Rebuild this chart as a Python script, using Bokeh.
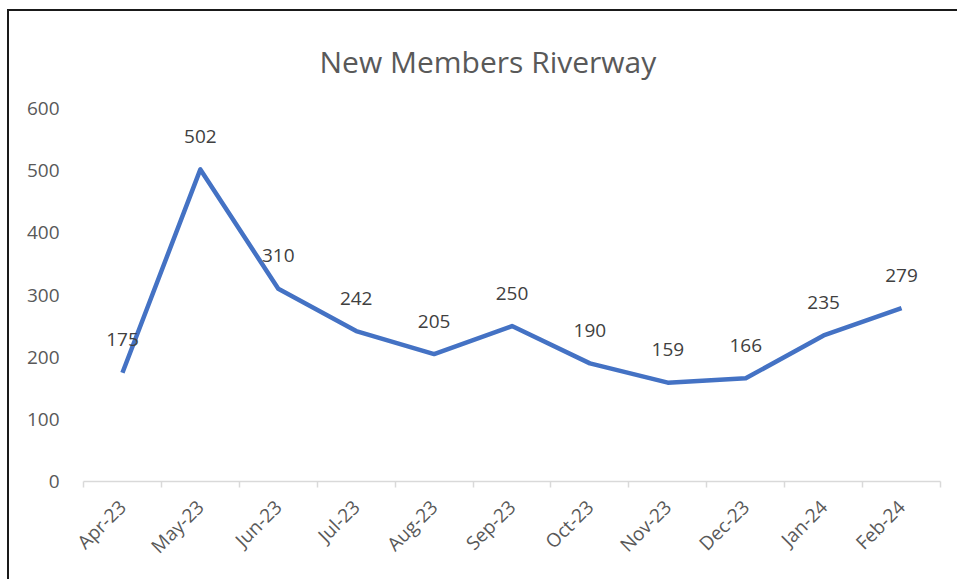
import math
from bokeh.plotting import figure
from bokeh.models import ColumnDataSource, FixedTicker, Range1d
from bokeh.core.properties import value
from bokeh.embed import file_html
from bokeh.resources import INLINE

months = ["Apr-23", "May-23", "Jun-23", "Jul-23", "Aug-23", "Sep-23",
          "Oct-23", "Nov-23", "Dec-23", "Jan-24", "Feb-24"]
new_members = [175, 502, 310, 242, 205, 250, 190, 159, 166, 235, 279]
y_ticks = [0, 100, 200, 300, 400, 500, 600]

FONT = "Open Sans"
n = len(months)
xs = [i + 0.5 for i in range(n)]
src = ColumnDataSource(dict(x=xs, y=new_members, lab=[str(v) for v in new_members]))

p = figure(width=950, height=570, output_backend="svg", toolbar_location=None,
           x_range=Range1d(0, n), y_range=Range1d(0, 600),
           min_border_left=74, min_border_right=19, min_border_top=96, min_border_bottom=100,
           background_fill_color="white", border_fill_color="white",
           outline_line_color=None)
p.styles = {"border-left": "2px solid #1a1a1a", "border-top": "2px solid #1a1a1a",
            "margin-left": "7px", "margin-top": "9px"}

p.title.text = "New Members Riverway"
p.title.align = "left"
p.title.offset = 236
p.title.text_font = FONT
p.title.text_font_size = "30px"
p.title.text_font_style = "normal"
p.title.text_color = "#595959"
p.title.standoff = 54

p.line("x", "y", source=src, line_color="#4472C4", line_width=4.5, line_join="round")
p.text("x", "y", text="lab", source=src, text_align="center", text_baseline="middle",
       y_offset=-33, text_font=value(FONT), text_font_size="19px", text_color="#404040")

p.xgrid.grid_line_color = None
p.ygrid.grid_line_color = None

xa = p.xaxis[0]
xa.ticker = FixedTicker(ticks=xs, minor_ticks=list(range(n + 1)))
xa.major_label_overrides = {x: m for x, m in zip(xs, months)}
xa.major_label_orientation = math.pi / 4
xa.major_tick_line_color = None
xa.minor_tick_line_color = "#d9d9d9"
xa.minor_tick_in = 0
xa.minor_tick_out = 6
xa.axis_line_color = "#d9d9d9"
xa.axis_line_width = 1.5
xa.minor_tick_line_width = 1.5
xa.major_label_text_font = FONT
xa.major_label_text_font_size = "19px"
xa.major_label_text_color = "#595959"
xa.major_label_standoff = 16

ya = p.yaxis[0]
ya.ticker = FixedTicker(ticks=y_ticks)
ya.axis_line_color = None
ya.major_tick_line_color = None
ya.minor_tick_line_color = None
ya.major_label_text_font = FONT
ya.major_label_text_font_size = "19px"
ya.major_label_text_color = "#595959"
ya.major_label_standoff = 18

open("out.html", "w").write(file_html(p, INLINE))
